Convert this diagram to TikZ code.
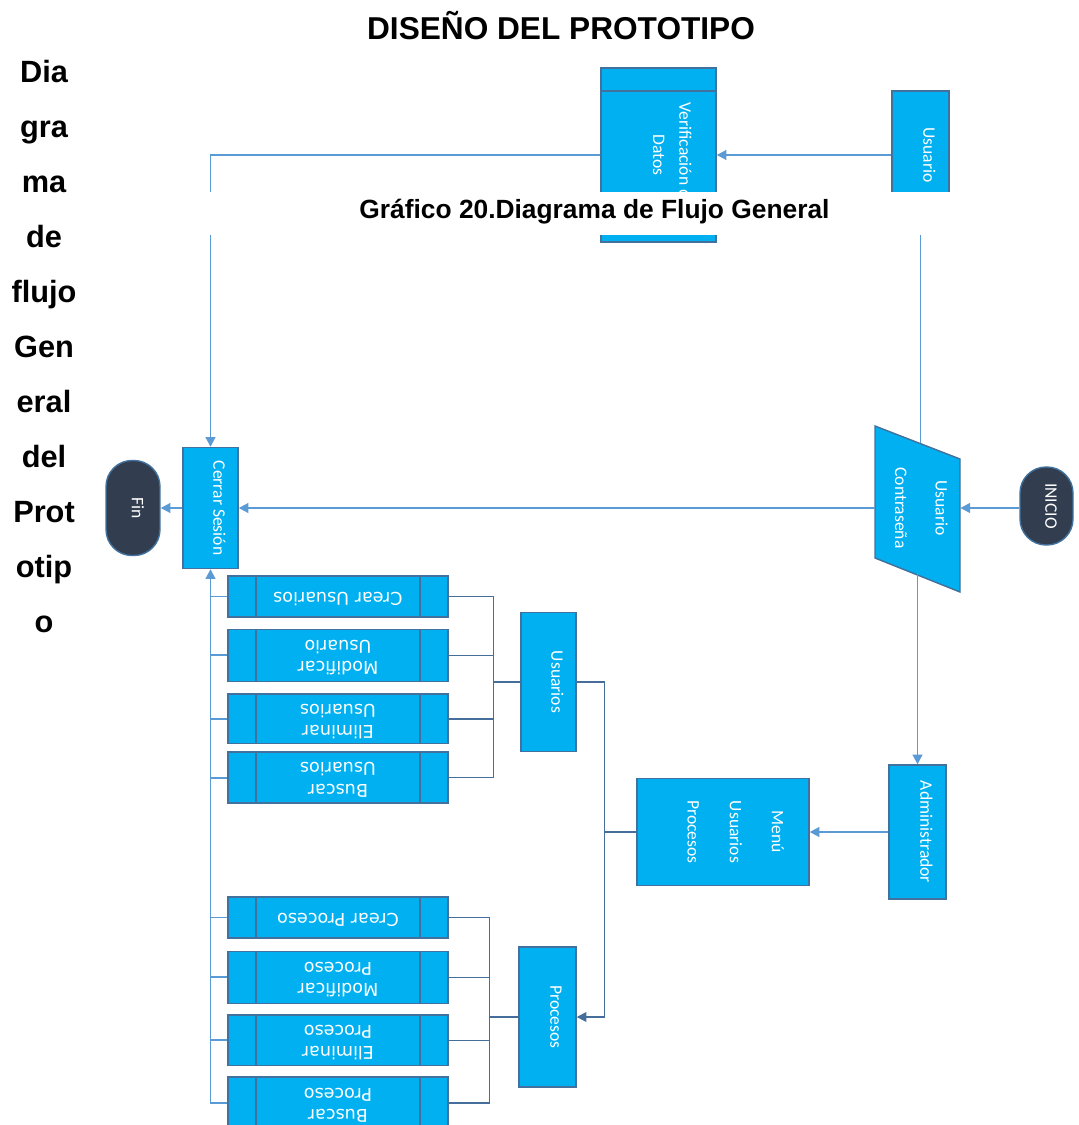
\documentclass[tikz,border=0pt]{standalone}
\usepackage{fontspec}
\usepackage{graphicx}
\setmainfont{Liberation Sans}
\newfontfamily\boxfont{Carlito}
\newfontfamily\subfont{DejaVu Sans}
\usetikzlibrary{arrows.meta, positioning}
\definecolor{boxblue}{RGB}{0,176,240}
\definecolor{boxedge}{RGB}{65,113,156}
\definecolor{flowblue}{RGB}{91,155,213}
\definecolor{busblue}{RGB}{70,110,155}
\definecolor{termdark}{RGB}{50,62,79}
\newcommand{\vtext}[2][0.14cm]{\rotatebox{-90}{\raisebox{#1}[\height][\depth]{\begin{tabular}{@{}c@{}}#2\end{tabular}}}}
\newcommand{\utext}[1]{\rotatebox{180}{\begin{tabular}{@{}c@{}}#1\end{tabular}}}
\tikzset{
  procbox/.style={rectangle, draw=boxedge, fill=boxblue, line width=0.8pt,
    text=white, font=\boxfont\fontsize{10}{12}\selectfont, inner sep=0pt},
  headbox/.style={procbox,
    path picture={\draw[boxedge, line width=0.8pt]
      ([yshift=-0.46cm]path picture bounding box.north west) -- ([yshift=-0.46cm]path picture bounding box.north east)
      ([yshift=0.46cm]path picture bounding box.south west) -- ([yshift=0.46cm]path picture bounding box.south east);}},
  subbox/.style={procbox, font=\subfont\fontsize{10}{12}\selectfont, minimum width=4.4cm,
    path picture={\draw[boxedge, line width=0.8pt]
      ([xshift=0.56cm]path picture bounding box.north west) -- ([xshift=0.56cm]path picture bounding box.south west)
      ([xshift=-0.56cm]path picture bounding box.north east) -- ([xshift=-0.56cm]path picture bounding box.south east);}},
  iobox/.style={draw=boxedge, fill=boxblue, line width=0.8pt},
  term/.style={rectangle, rounded corners=0.52cm, draw=boxedge, fill=termdark, line width=0.8pt,
    text=white, font=\boxfont\fontsize{10}{12}\selectfont, inner sep=0pt},
  flow/.style={draw=flowblue, line width=1.1pt},
  arrow/.style={flow, -{Triangle[length=5.5pt, width=5.5pt]}},
  bus/.style={draw=busblue, line width=0.9pt}
}

\begin{document}
\begin{tikzpicture}[x=0.02cm, y=-0.02cm]
  \useasboundingbox (0,0) rectangle (1078,1125);

  % titulos
  \node[font=\bfseries\fontsize{18}{22}\selectfont, anchor=base] (title) at (561,40) {DISEÑO DEL PROTOTIPO};
  \node[font=\bfseries\fontsize{17.5}{31.3}\selectfont, align=center, anchor=north, inner sep=0pt] (side) at (44,60)
    {Dia\\gra\\ma\\de\\flujo\\Gen\\eral\\del\\Prot\\otip\\o};

  % parte superior
  \node[headbox, minimum width=2.3cm, minimum height=3.48cm] (verif) at (658.5,155) {\vtext[0.24cm]{Verificación de\\[3pt]Datos}};
  \node[procbox, minimum width=1.14cm, minimum height=2.56cm] (usr) at (920.5,155) {\vtext{Usuario}};

  % entrada de datos
  \draw[iobox] (875,426) -- (960,459) -- (960,592) -- (875,558) -- cycle;
  \node[inner sep=0pt, minimum width=1.7cm, minimum height=2.6cm, text=white,
    font=\boxfont\fontsize{10}{12}\selectfont] (pwd) at (917.5,508) {\vtext[0.04cm]{Usuario\\[11pt]Contraseña}};
  \node[term, minimum width=1.06cm, minimum height=1.56cm] (inicio) at (1046.5,506) {\vtext[0.06cm]{INICIO}};
  \node[procbox, minimum width=1.1cm, minimum height=2.42cm] (cerrar) at (210.5,508) {\vtext{Cerrar Sesión}};
  \node[term, minimum width=1.08cm, minimum height=1.9cm] (fin) at (133,508) {\vtext[0.06cm]{Fin}};

  % menu
  \node[procbox, minimum width=1.14cm, minimum height=2.68cm] (admin) at (917.5,832) {\vtext{Administrador}};
  \node[procbox, minimum width=3.44cm, minimum height=2.14cm] (menu) at (723,832) {\vtext[0.22cm]{Menú\\[12pt]Usuarios\\[12pt]Procesos}};
  \node[procbox, minimum width=1.1cm, minimum height=2.78cm] (usrs) at (548.5,682) {\vtext{Usuarios}};
  \node[procbox, minimum width=1.14cm, minimum height=2.8cm] (procs) at (547.5,1017) {\vtext{Procesos}};

  % opciones de usuarios
  \node[subbox, minimum height=0.82cm] (cu) at (338,596.5) {\utext{Crear Usuarios}};
  \node[subbox, minimum height=1.04cm, below=0.22cm of cu] (mu) {\utext{Modificar\\Usuario}};
  \node[subbox, minimum height=1.0cm, below=0.22cm of mu] (eu) {\utext{Eliminar\\Usuarios}};
  \node[subbox, minimum height=1.02cm, below=0.14cm of eu] (bu) {\utext{Buscar\\Usuarios}};

  % opciones de procesos
  \node[subbox, minimum height=0.82cm] (cp) at (338,917.5) {\utext{Crear Proceso}};
  \node[subbox, minimum height=1.04cm, below=0.24cm of cp] (mp) {\utext{Modificar\\Proceso}};
  \node[subbox, minimum height=1.02cm, below=0.2cm of mp] (ep) {\utext{Eliminar\\Proceso}};
  \node[subbox, minimum height=1.04cm, below=0.2cm of ep] (bp) {\utext{Buscar\\Proceso}};

  % conectores
  \draw[arrow] (usr.west) -- (verif.east);
  \draw[arrow] (verif.west) -| (cerrar.north);
  \draw[flow] (usr.south) -- (usr.south |- pwd.north);
  \draw[arrow] (inicio.west |- pwd.east) -- (pwd.east);
  \draw[arrow] (pwd.west) -- (cerrar.east);
  \draw[arrow] (cerrar.west) -- (fin.east);
  \draw[arrow] (pwd.south) -- (admin.north);
  \draw[arrow] (admin.west) -- (menu.east);

  \coordinate (trunk) at ([xshift=0.56cm]usrs.east);
  \draw[bus] (usrs.east) -- (trunk);
  \draw[bus, -{Triangle[length=5.5pt, width=5.5pt]}] (trunk) |- (procs.east);
  \draw[bus] (menu.west) -- (menu.west -| trunk);

  \coordinate (ujoin) at ([xshift=-0.54cm]usrs.west);
  \coordinate (pjoin) at ([xshift=-0.58cm]procs.west);
  \foreach \n in {cu,mu,eu,bu}
    \draw[bus] (\n.east) -| (ujoin);
  \draw[bus] (ujoin) -- (usrs.west);
  \foreach \n in {cp,mp,ep,bp}
    \draw[bus] (\n.east) -| (pjoin);
  \draw[bus] (pjoin) -- (procs.west);

  \draw[arrow] (bp.west) -| (cerrar.south);
  \foreach \n in {cu,mu,eu,bu,cp,mp,ep}
    \draw[flow] (\n.west) -- (\n.west -| cerrar.south);

  % leyenda
  \fill[white] (100,192) rectangle (1078,235);
  \node[font=\bfseries\fontsize{15}{18}\selectfont, anchor=base] (caption) at (594.5,218) {Gráfico 20.Diagrama de Flujo General};
\end{tikzpicture}
\end{document}
